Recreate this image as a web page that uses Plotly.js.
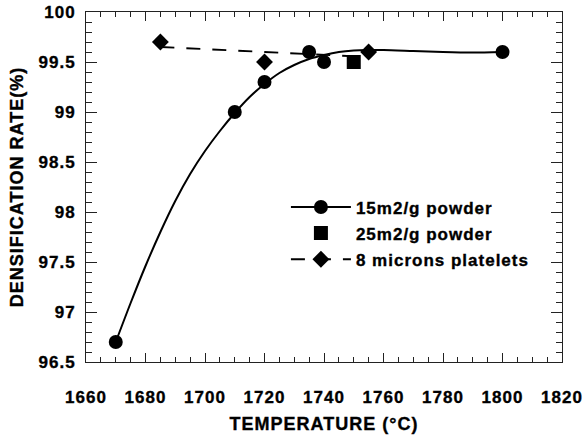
<!DOCTYPE html>
<html>
<head>
<meta charset="utf-8">
<script src="https://cdn.plot.ly/plotly-3.0.1.min.js"></script>
<style>
  html, body { margin: 0; padding: 0; background: #fff; }
  #chart { width: 586px; height: 437px; }
  /* all lettering in this figure is heavy bold and slightly tracked */
  text { letter-spacing: 1px; font-weight: 700 !important; }
  #chart text { stroke: #000; stroke-width: 0.35px; }
</style>
</head>
<body>
<div id="chart"></div>
<script>
// Measured densification of the 15 m2/g powder
const temps15 = [1670, 1710, 1720, 1735, 1740, 1800];
const dens15 = [96.7, 99.0, 99.3, 99.6, 99.5, 99.6];

// Smoothed trend drawn through the 15 m2/g measurements
const trendTemps15 = [1670, 1675, 1680, 1685, 1690, 1695, 1700, 1705, 1710, 1715, 1720, 1725, 1730, 1735, 1740, 1745, 1750, 1755, 1760, 1770, 1780, 1790, 1800];
const trendDens15 = [96.70, 97.09, 97.46, 97.80, 98.11, 98.38, 98.61, 98.81, 98.99, 99.15, 99.28, 99.39, 99.47, 99.53, 99.57, 99.60, 99.615, 99.62, 99.62, 99.61, 99.60, 99.595, 99.60];

// 25 m2/g powder
const temps25 = [1750];
const dens25 = [99.5];

// 8 micron platelets and their linear trend
const tempsPlat = [1685, 1720, 1755];
const densPlat = [99.7, 99.5, 99.6];
const trendTempsPlat = [1685, 1755];
const trendDensPlat = [99.65, 99.55];

// Axis ticks
const xTicks = [1660, 1680, 1700, 1720, 1740, 1760, 1780, 1800, 1820];
const yTicks = [96.5, 97, 97.5, 98, 98.5, 99, 99.5, 100];

const INK = '#000';
const FONT = 'Liberation Sans, Arial, Helvetica, sans-serif';

const traces = [
  // plotted data (legend entries are added separately below)
  { x: trendTemps15, y: trendDens15, mode: 'lines', line: { color: INK, width: 2, shape: 'spline', smoothing: 0.8 }, showlegend: false, hoverinfo: 'skip' },
  { x: trendTempsPlat, y: trendDensPlat, mode: 'lines', line: { color: INK, width: 1.8, dash: '14px,12px' }, showlegend: false, hoverinfo: 'skip' },
  { x: temps15, y: dens15, mode: 'markers', marker: { symbol: 'circle', size: 14, color: INK }, showlegend: false },
  { x: temps25, y: dens25, mode: 'markers', marker: { symbol: 'square', size: 14, color: INK }, showlegend: false },
  { x: tempsPlat, y: densPlat, mode: 'markers', marker: { symbol: 'diamond', size: 13, color: INK }, showlegend: false },
  // legend entries
  { x: [null], y: [null], name: '15m2/g powder', legendgroup: 'a', mode: 'lines+markers', line: { color: INK, width: 2 }, marker: { symbol: 'circle', size: 14, color: INK } },
  { x: [null], y: [null], name: '25m2/g powder', legendgroup: 'b', mode: 'markers', marker: { symbol: 'square', size: 14, color: INK } },
  { x: [null], y: [null], name: '8 microns platelets', legendgroup: 'c', mode: 'lines+markers', line: { color: INK, width: 2, dash: '14px,12px' }, marker: { symbol: 'diamond', size: 13, color: INK } }
];

const axisCommon = {
  ticks: 'inside',
  mirror: 'allticks',
  showline: true,
  linecolor: '#222',
  linewidth: 1,
  tickcolor: '#222',
  tickwidth: 1,
  showgrid: false,
  zeroline: false,
  tickfont: { family: FONT, size: 17, weight: 700, color: INK }
};

const layout = {
  width: 586,
  height: 437,
  margin: { l: 86, r: 24, t: 12, b: 75 },
  paper_bgcolor: '#fff',
  plot_bgcolor: '#fff',
  showlegend: true,
  legend: {
    x: 0.42, y: 0.493, xanchor: 'left', yanchor: 'top',
    bgcolor: 'rgba(0,0,0,0)',
    font: { family: FONT, size: 17, weight: 700, color: INK },
    tracegroupgap: 1,
    itemwidth: 60
  },
  xaxis: Object.assign({}, axisCommon, {
    range: [1660, 1820],
    tickvals: xTicks,
    ticklen: 9,
    ticklabelstandoff: 20,
    minor: { dtick: 5, tick0: 1660, ticks: 'inside', ticklen: 5, tickcolor: '#222', showgrid: false },
    title: { text: 'TEMPERATURE (°C)', font: { family: FONT, size: 18, weight: 700, color: INK }, standoff: 10 }
  }),
  yaxis: Object.assign({}, axisCommon, {
    range: [96.5, 100],
    tickvals: yTicks,
    ticklen: 11,
    ticklabelstandoff: 6,
    minor: { dtick: 0.1, tick0: 96.5, ticks: 'inside', ticklen: 6, tickcolor: '#222', showgrid: false },
    title: { text: 'DENSIFICATION RATE(%)', font: { family: FONT, size: 18, weight: 700, color: INK }, standoff: 10 }
  })
};

Plotly.newPlot('chart', traces, layout, { displayModeBar: false, staticPlot: true });
</script>
</body>
</html>
